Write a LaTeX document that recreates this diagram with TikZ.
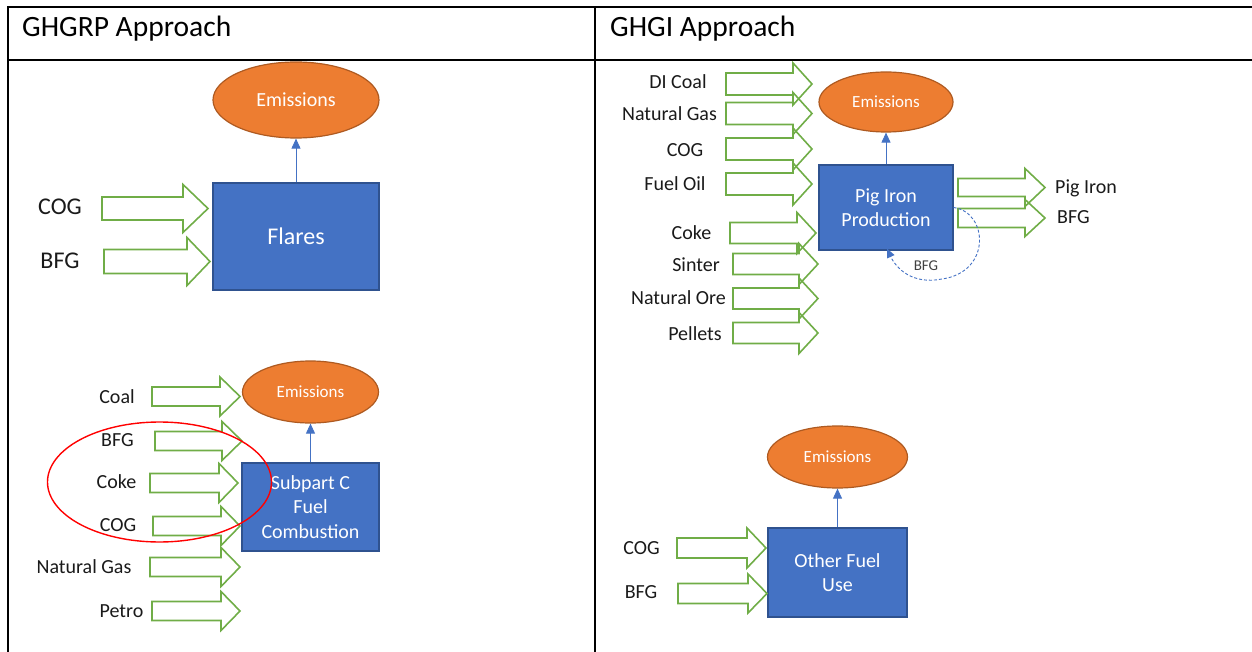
\documentclass[tikz,border=0pt]{standalone}
\usepackage{fontspec}
\setmainfont{Carlito}
\usetikzlibrary{shapes.geometric,arrows.meta}
\definecolor{boxblue}{HTML}{4472C4}
\definecolor{boxedge}{HTML}{2F528F}
\definecolor{emorange}{HTML}{ED7D31}
\definecolor{emedge}{HTML}{AE5A21}
\definecolor{flowgreen}{HTML}{70AD47}
\definecolor{lbltext}{HTML}{1A1A1A}
\newcommand{\flowarrow}[6]{\draw[flow] (#1,#4-#5) -- (#2,#4-#5) -- (#2,#4-#6) -- (#3,#4) -- (#2,#4+#6) -- (#2,#4+#5) -- (#1,#4+#5) -- cycle;}
\tikzset{
  tbl/.style={line width=2pt, black},
  flow/.style={draw=flowgreen, line width=1.6pt, fill=none},
  procbox/.style={rectangle, fill=boxblue, draw=boxedge, line width=1.2pt, text=white, align=center, inner sep=0pt},
  emis/.style={ellipse, fill=emorange, draw=emedge, line width=1.2pt, text=white, inner sep=0pt},
  conn/.style={draw=boxblue, line width=0.9pt, -{Triangle[length=10pt,width=9pt]}},
  lbl/.style={text=lbltext, inner sep=0pt, text height=0.64em, text depth=0pt, yshift=-3.5pt},
  hdr/.style={text=black, inner sep=0pt, anchor=west, font=\fontsize{29.5}{33}\selectfont},
  f24/.style={font=\fontsize{24}{28}\selectfont},
  f20/.style={font=\fontsize{20}{24.5}\selectfont},
  f17/.style={font=\fontsize{17}{20}\selectfont},
  ring/.style={ellipse, draw=red, line width=1.4pt, inner sep=0pt},
  loopflow/.style={draw=boxblue, line width=0.9pt, dash pattern=on 3pt off 2pt, -{Triangle[length=9pt,width=8pt]}}
}
\begin{document}
\begin{tikzpicture}[x=1pt,y=-1pt]
\useasboundingbox (0,0) rectangle (1252,652);
% table
\draw[tbl] (8,653) -- (8,7) -- (1253,7);
\draw[tbl] (8,60) -- (1253,60);
\draw[tbl] (595,7) -- (595,653);
\node[hdr] (h1) at (22,28.5) {GHGRP Approach};
\node[hdr] (h2) at (610,28.5) {GHGI Approach};

% ---------- left top: Flares
\node[emis, minimum width=166pt, minimum height=76pt, font=\fontsize{20}{24}\selectfont] (e1) at (296,100) {Emissions};
\node[procbox, minimum width=166pt, minimum height=107pt, font=\fontsize{24}{28}\selectfont] (flares) at (296,236.5) {Flares};
\draw[conn] (flares.north) -- (e1.south);
\flowarrow{102}{183}{208}{208.5}{11.5}{24}
\flowarrow{104}{187}{210}{261.5}{12}{24}
\node[lbl, f24] (l1) at (60,208) {COG};
\node[lbl, f24] (l2) at (60,262) {BFG};

% ---------- left bottom: Subpart C
\node[emis, minimum width=136pt, minimum height=62pt, font=\fontsize{17}{20}\selectfont] (e2) at (310.5,392) {Emissions};
\node[procbox, minimum width=137pt, minimum height=88pt, f20] (subc) at (310.5,507) {Subpart C\\Fuel\\Combustion};
\draw[conn] (subc.north) -- (e2.south);
\flowarrow{152}{220}{240}{396.5}{9.5}{19.5}
\flowarrow{155}{222}{242}{441}{9.5}{19.5}
\flowarrow{150}{219}{238}{483}{9.5}{19.5}
\flowarrow{153}{221}{240}{526}{9.5}{19.5}
\flowarrow{150}{221}{240}{567}{9.5}{19.5}
\flowarrow{152}{221}{240}{611}{9.5}{19.5}
\node[lbl, f20] (c1) at (117,397) {Coal};
\node[lbl, f20] (c2) at (117.5,440) {BFG};
\node[lbl, f20] (c3) at (116.5,482) {Coke};
\node[lbl, f20] (c4) at (118,525) {COG};
\node[lbl, f20] (c5) at (84,567) {Natural Gas};
\node[lbl, f20] (c6) at (121.5,611) {Petro};
\node[ring, minimum width=224pt, minimum height=120pt] (circ) at (159.5,482) {};

% ---------- right top: Pig Iron
\node[emis, minimum width=134pt, minimum height=60pt, f17] (e3) at (886,102) {Emissions};
\node[procbox, minimum width=134pt, minimum height=85pt, f20] (pig) at (886,207.5) {Pig Iron\\Production};
\draw[conn] (pig.north) -- (e3.south);
\flowarrow{726}{793}{812}{84}{11}{21}
\flowarrow{726}{793}{812}{113.5}{11}{21}
\flowarrow{726}{793}{812}{149}{11}{21}
\flowarrow{726}{793}{812}{184}{11}{21}
\flowarrow{730}{797}{816}{233}{10.5}{20.5}
\flowarrow{733}{799}{818}{264}{10.5}{20.5}
\flowarrow{733}{799}{818}{298.5}{10.5}{20.5}
\flowarrow{733}{799}{818}{333}{10.5}{20.5}
\node[lbl, f20] (r1) at (678,82) {DI Coal};
\node[lbl, f20] (r2) at (669.5,114) {Natural Gas};
\node[lbl, f20] (r3) at (685,150) {COG};
\node[lbl, f20] (r4) at (675,184) {Fuel Oil};
\node[lbl, f20] (r5) at (691.5,233) {Coke};
\node[lbl, f20] (r6) at (696,265) {Sinter};
\node[lbl, f20] (r7) at (678.5,298) {Natural Ore};
\node[lbl, f20] (r8) at (695,334) {Pellets};
\flowarrow{958}{1025}{1045}{187.5}{9}{19}
\flowarrow{958}{1025}{1045}{218}{9.5}{18.5}
\node[lbl, f20, anchor=west] (o1) at (1055,187) {Pig Iron};
\node[lbl, f20, anchor=west] (o2) at (1057,217) {BFG};
\coordinate (loopbot) at (942,279);
\draw[loopflow] (pig.east) .. controls (988,212) and (992,272) .. (loopbot) .. controls (912,285) and (896,268) .. ([xshift=1pt,yshift=2pt]pig.south);
\node[lbl, text=black!75, font=\fontsize{15}{18}\selectfont] (lb) at (926,264) {BFG};

% ---------- right bottom: Other Fuel Use
\node[emis, minimum width=140pt, minimum height=62pt, f17] (e4) at (837.5,457) {Emissions};
\node[procbox, minimum width=139pt, minimum height=89pt, f20] (other) at (837.5,572.5) {Other Fuel\\Use};
\draw[conn] (other.north) -- (e4.south);
\flowarrow{677}{747}{766}{548}{10}{20}
\flowarrow{678}{748}{767}{593.5}{10}{19.5}
\node[lbl, f20] (b1) at (641.5,548) {COG};
\node[lbl, f20] (b2) at (641,592) {BFG};
\end{tikzpicture}
\end{document}
